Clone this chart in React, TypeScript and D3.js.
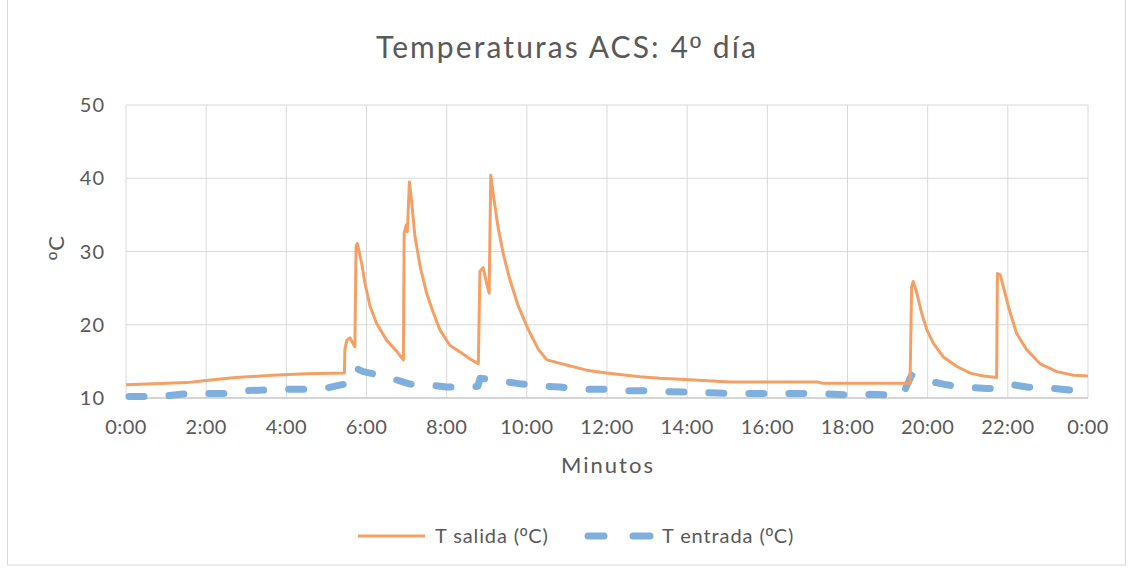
import React from "react";
import * as d3 from "d3";

// hours of day and temperatures
const salidaHours = [
  0, 0.52, 1.02, 1.52, 1.99, 2.74, 3.65, 4.48, 5.45, 5.46, 5.51, 5.59, 5.71,
  5.74, 5.77, 5.88, 5.96, 6.09, 6.25, 6.5, 6.75, 6.92, 6.94, 6.99, 7.02, 7.07,
  7.13, 7.21, 7.34, 7.5, 7.67, 7.83, 8.08, 8.38, 8.62, 8.79, 8.83, 8.91, 9.0,
  9.06, 9.1, 9.16, 9.28, 9.41, 9.58, 9.79, 10.04, 10.29, 10.5, 10.99, 11.49,
  11.99, 12.82, 13.32, 14.07, 15.07, 17.23, 17.4, 19.52, 19.56, 19.6, 19.64,
  19.73, 19.85, 19.98, 20.14, 20.39, 20.73, 21.06, 21.39, 21.72, 21.74, 21.81,
  21.93, 22.06, 22.22, 22.47, 22.8, 23.22, 23.64, 24.0,
];
const salidaValues = [
  11.8, 11.9, 12.0, 12.1, 12.4, 12.8, 13.1, 13.3, 13.4, 16.6, 17.9, 18.2, 17.0,
  30.7, 31.1, 28.4, 25.7, 22.5, 20.2, 17.9, 16.4, 15.2, 32.5, 33.6, 32.7, 39.5,
  36.6, 32.0, 27.9, 24.3, 21.6, 19.3, 17.2, 16.1, 15.2, 14.7, 27.3, 27.8, 25.6,
  24.3, 40.4, 37.9, 33.4, 29.7, 26.1, 22.5, 19.3, 16.6, 15.2, 14.5, 13.8, 13.4,
  12.9, 12.7, 12.5, 12.2, 12.2, 12.0, 12.0, 12.0, 25.2, 25.9, 24.3, 21.6, 19.3,
  17.5, 15.6, 14.3, 13.4, 13.0, 12.8, 27.0, 26.8, 24.3, 21.6, 18.8, 16.6, 14.7,
  13.6, 13.1, 13.0,
];

const entradaHours = [
  0, 0.52, 1.02, 1.51, 1.97, 2.43, 2.97, 3.52, 3.92, 4.52, 5.04, 5.46, 5.59,
  5.76, 5.92, 6.34, 6.67, 7.09, 7.5, 8.0, 8.5, 8.78, 8.83, 9.16, 9.75, 10.16,
  10.83, 11.24, 11.91, 12.33, 12.99, 13.32, 13.99, 15.15, 16.24, 17.32, 18.15,
  18.56, 19.14, 19.39, 19.6, 19.85, 20.48, 20.81, 21.47, 21.72, 22.14, 22.47,
  23.13, 23.55,
];
const entradaValues = [
  10.2, 10.2, 10.3, 10.6, 10.6, 10.6, 11.0, 11.1, 11.2, 11.2, 11.4, 11.9, 13.8,
  14.0, 13.6, 13.1, 12.6, 11.9, 11.8, 11.5, 11.5, 11.6, 12.7, 12.5, 12.0, 11.7,
  11.5, 11.2, 11.2, 11.0, 11.0, 10.9, 10.8, 10.6, 10.6, 10.6, 10.4, 10.5, 10.4,
  10.6, 13.1, 12.5, 11.8, 11.5, 11.3, 11.3, 11.8, 11.5, 11.3, 11.1,
];

const xTicks = [0, 2, 4, 6, 8, 10, 12, 14, 16, 18, 20, 22, 24];
const yTicks = [10, 20, 30, 40, 50];

const salida = salidaHours.map((h, i) => ({ h, v: salidaValues[i] }));
const entrada = entradaHours.map((h, i) => ({ h, v: entradaValues[i] }));

const W = 1132;
const H = 570;
const FONT = "Lato, 'Open Sans', sans-serif";
const ORD_FONT = "'Liberation Sans', 'DejaVu Sans', sans-serif";
const TXT = "#595959";
const ORANGE = "#f4a064";
const BLUE = "#7fb0dd";

// º with the underline, as in the original
const Ord = () => <tspan fontFamily={ORD_FONT}>º</tspan>;

const App = () => {
  const x = d3.scaleLinear().domain([0, 24]).range([126, 1088]);
  const y = d3.scaleLinear().domain([10, 50]).range([398, 105]);

  const lineGen = d3
    .line<{ h: number; v: number }>()
    .x((d) => x(d.h))
    .y((d) => y(d.v));

  const fmt = (h: number) => `${h % 24}:00`;

  return (
    <svg
      width={W}
      height={H}
      style={{ position: "absolute", left: 0, top: 0 }}
      fontFamily={FONT}
    >
      <rect x={0} y={0} width={W} height={H} fill="#fff" />
      <rect x={7.5} y={-1} width={1118} height={566} fill="none" stroke="#d9d9d9" />

      <text x={567} y={58} textAnchor="middle" fontSize={30} letterSpacing={2.1} fill={TXT}>
        Temperaturas ACS: 4<Ord /> día
      </text>

      {/* grid */}
      {yTicks.map((t) => (
        <line key={"gy" + t} x1={x(0)} x2={x(24)} y1={y(t)} y2={y(t)} stroke="#d9d9d9" strokeWidth={1} />
      ))}
      {xTicks.map((t) => (
        <line key={"gx" + t} x1={x(t)} x2={x(t)} y1={y(50)} y2={y(10)} stroke="#d9d9d9" strokeWidth={1} />
      ))}
      <line x1={x(0)} x2={x(24)} y1={y(10)} y2={y(10)} stroke="#bfbfbf" strokeWidth={1} />

      {/* axis labels */}
      {yTicks.map((t) => (
        <text key={"ty" + t} x={105} y={y(t) + 7} textAnchor="end" fontSize={20} letterSpacing={1} fill={TXT}>
          {t}
        </text>
      ))}
      {xTicks.map((t) => (
        <text key={"tx" + t} x={x(t)} y={434} textAnchor="middle" fontSize={20} letterSpacing={0.4} fill={TXT}>
          {fmt(t)}
        </text>
      ))}
      <text x={608} y={473} textAnchor="middle" fontSize={22} letterSpacing={2} fill={TXT}>
        Minutos
      </text>
      <text
        transform={`translate(64,${y(30) - 4}) rotate(-90)`}
        textAnchor="middle"
        fontSize={22}
        letterSpacing={1}
        fill={TXT}
      >
        <Ord />C
      </text>

      {/* series */}
      <path
        d={lineGen(entrada) || ""}
        fill="none"
        stroke={BLUE}
        strokeWidth={7}
        strokeDasharray="15 25"
        strokeDashoffset={-3}
        strokeLinecap="round"
        strokeLinejoin="round"
      />
      <path
        d={lineGen(salida) || ""}
        fill="none"
        stroke={ORANGE}
        strokeWidth={3}
        strokeLinejoin="round"
      />

      {/* legend */}
      <line x1={358} x2={425} y1={536} y2={536} stroke={ORANGE} strokeWidth={3} />
      <text x={435} y={543} fontSize={20} letterSpacing={0.9} fill={TXT}>
        T salida (<Ord />C)
      </text>
      <line x1={588} x2={604} y1={536} y2={536} stroke={BLUE} strokeWidth={7} strokeLinecap="round" />
      <line x1={633} x2={650} y1={536} y2={536} stroke={BLUE} strokeWidth={7} strokeLinecap="round" />
      <text x={662} y={543} fontSize={20} letterSpacing={0.9} fill={TXT}>
        T entrada (<Ord />C)
      </text>
    </svg>
  );
};

export default App;
